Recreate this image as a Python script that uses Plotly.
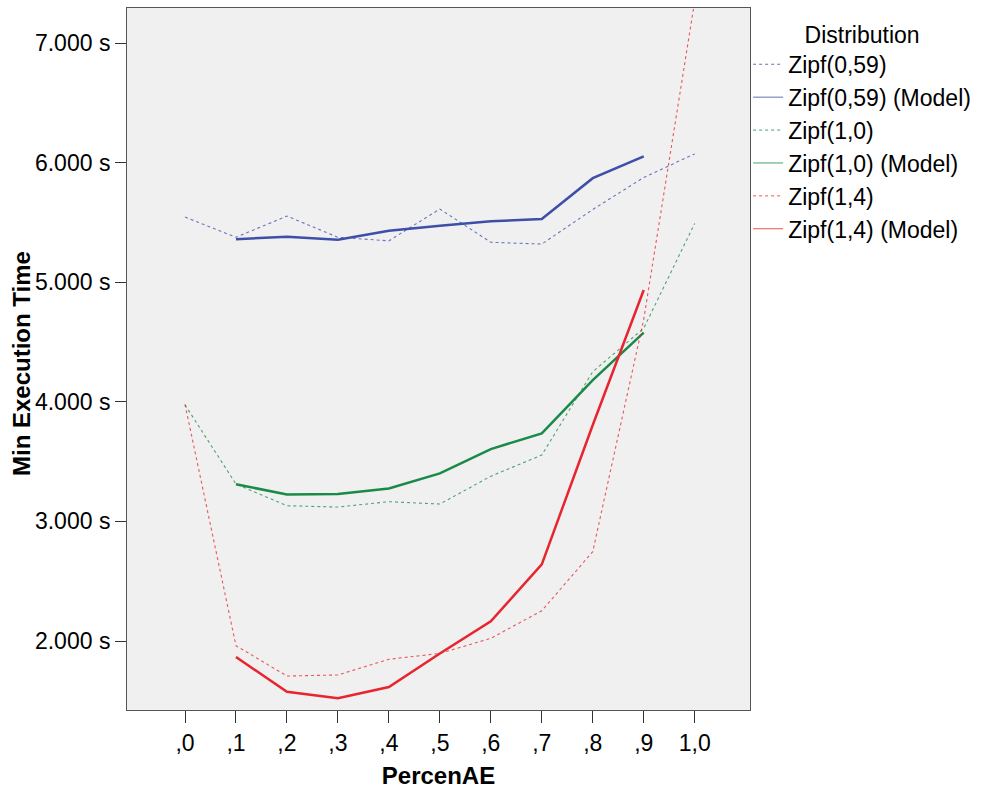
import plotly.graph_objects as go

x_vals = [0.0, 0.1, 0.2, 0.3, 0.4, 0.5, 0.6, 0.7, 0.8, 0.9, 1.0]
x_model = [0.1, 0.2, 0.3, 0.4, 0.5, 0.6, 0.7, 0.8, 0.9]

zipf059 = [5545, 5376, 5553, 5376, 5346, 5612, 5334, 5319, 5608, 5876, 6073]
zipf059_model = [5359, 5381, 5355, 5431, 5473, 5509, 5528, 5870, 6053]
zipf10 = [3975, 3312, 3131, 3120, 3165, 3145, 3378, 3555, 4252, 4615, 5492]
zipf10_model = [3310, 3226, 3229, 3276, 3402, 3605, 3736, 4182, 4578]
zipf14 = [3978, 1961, 1707, 1716, 1847, 1896, 2022, 2253, 2747, 4690, 7350]
zipf14_model = [1866, 1576, 1521, 1615, 1896, 2165, 2641, 3806, 4935]

y_tickvals = [2000, 3000, 4000, 5000, 6000, 7000]
y_ticktext = ["2.000 s", "3.000 s", "4.000 s", "5.000 s", "6.000 s", "7.000 s"]
x_ticktext = [",0", ",1", ",2", ",3", ",4", ",5", ",6", ",7", ",8", ",9", "1,0"]

BLUE = "#3d4fa8"
GREEN = "#1a8a48"
RED = "#e8242e"

series = [
    ("Zipf(0,59)", x_vals, zipf059, BLUE, "dot", 1.1, 0.75),
    ("Zipf(0,59) (Model)", x_model, zipf059_model, BLUE, "solid", 2.5, 1.0),
    ("Zipf(1,0)", x_vals, zipf10, GREEN, "dot", 1.1, 0.75),
    ("Zipf(1,0) (Model)", x_model, zipf10_model, GREEN, "solid", 2.5, 1.0),
    ("Zipf(1,4)", x_vals, zipf14, RED, "dot", 1.1, 0.75),
    ("Zipf(1,4) (Model)", x_model, zipf14_model, RED, "solid", 2.5, 1.0),
]

fig = go.Figure()
for name, xs, ys, col, dash, w, op in series:
    fig.add_trace(go.Scatter(
        x=xs, y=ys, name=name, mode="lines",
        line=dict(color=col, dash=dash, width=w),
        opacity=op, showlegend=False, legendgroup=name,
    ))
# thin legend samples, as in the original legend
for name, xs, ys, col, dash, w, op in series:
    fig.add_trace(go.Scatter(
        x=[None], y=[None], name=name, mode="lines",
        line=dict(color=col, dash=dash, width=1),
        opacity=0.8, showlegend=True, legendgroup=name,
    ))

FONT = "Liberation Sans, Arial, sans-serif"

fig.update_layout(
    width=985, height=792,
    margin=dict(l=127, r=235, t=8, b=82),
    paper_bgcolor="white",
    plot_bgcolor="#f0f0f0",
    font=dict(family=FONT, size=23, color="black"),
    showlegend=True,
    legend=dict(
        x=0.997, y=0.993, xanchor="left", yanchor="top",
        title=dict(text="Distribution", side="top center", font=dict(size=23)),
        font=dict(size=23),
        itemwidth=30,
        tracegroupgap=0,
        bgcolor="rgba(0,0,0,0)",
    ),
    xaxis=dict(
        range=[-0.1138, 1.1085],
        tickvals=x_vals, ticktext=x_ticktext,
        ticks="outside", ticklen=12, tickcolor="#333", tickwidth=1,
        showgrid=False, zeroline=False,
        showline=True, linecolor="#555", linewidth=1, mirror=True,
        title=dict(text="<b>PercenAE</b>", font=dict(size=24), standoff=12),
        tickfont=dict(size=23),
    ),
    yaxis=dict(
        range=[1423, 7293],
        tickvals=y_tickvals, ticktext=y_ticktext,
        ticks="outside", ticklen=11, tickcolor="#333", tickwidth=1,
        showgrid=False, zeroline=False,
        showline=True, linecolor="#555", linewidth=1, mirror=True,
        tickfont=dict(size=23),
        ticklabelstandoff=0,
    ),
    annotations=[dict(
        text="<b>Min Execution Time</b>", textangle=-90,
        xref="paper", yref="paper",
        x=(21 - 127) / 623, y=(710 - 364) / 702,
        xanchor="center", yanchor="middle", showarrow=False,
        font=dict(size=24),
    )],
)

fig.write_html("out.html")
